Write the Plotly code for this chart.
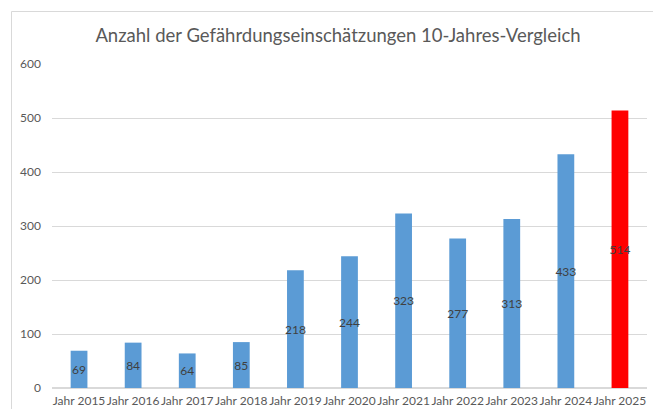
import plotly.graph_objects as go

categories = ["Jahr 2015", "Jahr 2016", "Jahr 2017", "Jahr 2018", "Jahr 2019", "Jahr 2020",
              "Jahr 2021", "Jahr 2022", "Jahr 2023", "Jahr 2024", "Jahr 2025"]
values = [69, 84, 64, 85, 218, 244, 323, 277, 313, 433, 514]
bar_colors = ["#5B9BD5"] * 10 + ["#FF0000"]
y_ticks = [0, 100, 200, 300, 400, 500, 600]
title = "Anzahl der Gefährdungseinschätzungen 10-Jahres-Vergleich"

W, H = 653, 409
L, R, T, B = 52, 6, 64, 21

fig = go.Figure(go.Bar(
    x=categories, y=values,
    marker=dict(color=bar_colors, line=dict(width=0)),
    text=[str(v) for v in values],
    textposition="inside", insidetextanchor="middle",
    constraintext="none", textangle=0,
    textfont=dict(size=12, color="#404040", family="Lato"),
    width=0.31,
    cliponaxis=False,
))

pw, ph = W - L - R, H - T - B
bx = (11.5 - L) / pw
by = (H - B - 11.5) / ph
fig.add_shape(type="line", xref="paper", yref="paper", x0=bx, x1=bx, y0=-0.2, y1=by,
              line=dict(color="#D9D9D9", width=1), layer="above")
fig.add_shape(type="line", xref="paper", yref="paper", x0=bx, x1=1.1, y0=by, y1=by,
              line=dict(color="#D9D9D9", width=1), layer="above")

fig.update_layout(
    width=W, height=H,
    margin=dict(l=L, r=R, t=T, b=B),
    paper_bgcolor="white", plot_bgcolor="white",
    font=dict(family="Lato", color="#595959", size=12),
    title=dict(text=title, x=338 / W, xanchor="center", y=1 - 36 / H,
               yanchor="middle", font=dict(size=18.5, color="#595959", family="Lato")),
    showlegend=False,
    bargap=0.69,
    xaxis=dict(showgrid=False, showline=True, linecolor="#D9D9D9", ticks="",
               tickangle=0, automargin=False, ticklabelstandoff=2,
               tickfont=dict(size=12, color="#595959")),
    yaxis=dict(range=[0, 600], tickvals=y_ticks, showgrid=True, gridcolor="#D9D9D9",
               zeroline=True, zerolinecolor="#D9D9D9", showline=False, ticks="",
               automargin=False,
               ticklabelstandoff=10, tickfont=dict(size=12, color="#595959")),
)

fig.write_html("out.html", config={"displayModeBar": False},
               post_script="document.body.style.margin='0';document.body.style.overflow='hidden';")
